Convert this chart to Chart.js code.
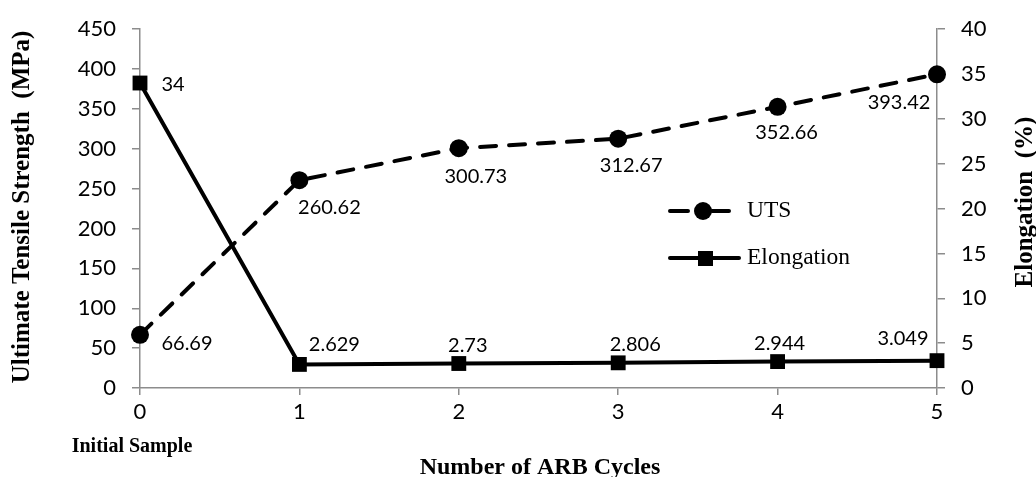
<!DOCTYPE html>
<html>
<head>
<meta charset="utf-8">
<script src="https://cdn.jsdelivr.net/npm/chart.js@4"></script>
<style>
  html, body { margin: 0; padding: 0; background: #fff; }
  #wrap { width: 1036px; height: 477px; }
</style>
</head>
<body>
<div id="wrap"><canvas id="myChart" width="1036" height="477"></canvas></div>
<script>
const cycles = ['0', '1', '2', '3', '4', '5'];
const utsValues = [66.69, 260.62, 300.73, 312.67, 352.66, 393.42];
const elongationValues = [34, 2.629, 2.73, 2.806, 2.944, 3.049];
const utsLabels = ['66.69', '260.62', '300.73', '312.67', '352.66', '393.42'];
const elongationLabels = ['34', '2.629', '2.73', '2.806', '2.944', '3.049'];

// where each value label sits relative to its point (dx, dy of text centre)
const utsLabelOffsets = [[47, 9], [30, 27], [17, 28], [13, 27], [9, 26], [-38, 28]];
const elongationLabelOffsets = [[33, 2], [35, -20], [9, -18], [17, -18], [2, -18], [-34, -22]];

const axisColor = '#8c8c8c';
const tickFont = { family: 'Lato', size: 22 };
const labelFont = '20px Lato';

const textPlugin = {
  id: 'texts',
  afterDatasetsDraw(chart) {
    const c = chart.ctx;
    c.save();
    c.fillStyle = '#000';
    c.font = labelFont;
    c.textAlign = 'center';
    c.textBaseline = 'middle';
    const utsMeta = chart.getDatasetMeta(0);
    const elMeta = chart.getDatasetMeta(1);
    utsMeta.data.forEach((pt, i) => {
      c.fillText(utsLabels[i], pt.x + utsLabelOffsets[i][0], pt.y + utsLabelOffsets[i][1]);
    });
    elMeta.data.forEach((pt, i) => {
      c.fillText(elongationLabels[i], pt.x + elongationLabelOffsets[i][0], pt.y + elongationLabelOffsets[i][1]);
    });
    c.restore();
  },
  afterDraw(chart) {
    const c = chart.ctx;
    const area = chart.chartArea;
    c.save();
    c.fillStyle = '#000';
    c.textAlign = 'center';
    c.textBaseline = 'middle';

    // axis titles
    c.font = 'bold 25px "Liberation Serif"';
    c.save();
    c.translate(23, 207);
    c.rotate(-Math.PI / 2);
    c.fillText('Ultimate Tensile Strength  (MPa)', 0, 0);
    c.restore();
    c.save();
    c.translate(1026, 202);
    c.rotate(-Math.PI / 2);
    c.fillText('Elongation  (%)', 0, 0);
    c.restore();
    c.font = 'bold 24px "Liberation Serif"';
    c.fillText('Number of ARB Cycles', 540, 468);
    c.font = 'bold 20px "Liberation Serif"';
    c.fillText('Initial Sample', area.left - 8, 447);

    // legend
    c.strokeStyle = '#000';
    c.lineWidth = 4;
    c.lineCap = 'round';
    c.beginPath();
    c.moveTo(670, 211); c.lineTo(688, 211);
    c.moveTo(712, 211); c.lineTo(729, 211);
    c.stroke();
    c.beginPath();
    c.arc(703, 211, 9, 0, Math.PI * 2);
    c.fill();
    c.beginPath();
    c.moveTo(670, 258); c.lineTo(739, 258);
    c.stroke();
    c.fillRect(698, 251, 15, 15);
    c.font = '23.5px "Liberation Serif"';
    c.textAlign = 'left';
    c.fillText('UTS', 747, 211);
    c.fillText('Elongation', 747, 258);
    c.restore();
  }
};

new Chart(document.getElementById('myChart'), {
  type: 'line',
  data: {
    labels: cycles,
    datasets: [{
      label: 'UTS',
      data: utsValues,
      yAxisID: 'y',
      borderColor: '#000',
      backgroundColor: '#000',
      borderWidth: 4,
      borderDash: [16, 13],
      borderCapStyle: 'round',
      pointStyle: 'circle',
      pointRadius: 9,
      pointBorderWidth: 0,
      tension: 0,
      clip: false
    }, {
      label: 'Elongation',
      data: elongationValues,
      yAxisID: 'y1',
      borderColor: '#000',
      backgroundColor: '#000',
      borderWidth: 4,
      pointStyle: 'rect',
      pointRadius: 10.5,
      pointBorderWidth: 0,
      tension: 0,
      clip: false
    }]
  },
  options: {
    responsive: false,
    animation: false,
    layout: { padding: { top: 19 } },
    plugins: {
      legend: { display: false },
      tooltip: { enabled: false }
    },
    scales: {
      x: {
        type: 'category',
        offset: false,
        grid: { drawOnChartArea: false, drawTicks: true, tickLength: 7, color: axisColor, lineWidth: 1.5 },
        border: { color: axisColor, width: 1.5 },
        ticks: { color: '#000', font: tickFont, padding: 4, maxRotation: 0 },
        afterFit: s => { s.height = 89; }
      },
      y: {
        position: 'left',
        min: 0,
        max: 450,
        grid: { drawOnChartArea: false, drawTicks: true, tickLength: 8, color: axisColor, lineWidth: 1.5 },
        border: { color: axisColor, width: 1.5 },
        ticks: { stepSize: 50, color: '#000', font: tickFont, padding: 16 },
        afterFit: s => { s.width = 140; }
      },
      y1: {
        position: 'right',
        min: 0,
        max: 40,
        grid: { drawOnChartArea: false, drawTicks: true, tickLength: 8, color: axisColor, lineWidth: 1.5 },
        border: { color: axisColor, width: 1.5 },
        ticks: { stepSize: 5, color: '#000', font: tickFont, padding: 16 },
        afterFit: s => { s.width = 99; }
      }
    }
  },
  plugins: [textPlugin]
});
</script>
</body>
</html>
